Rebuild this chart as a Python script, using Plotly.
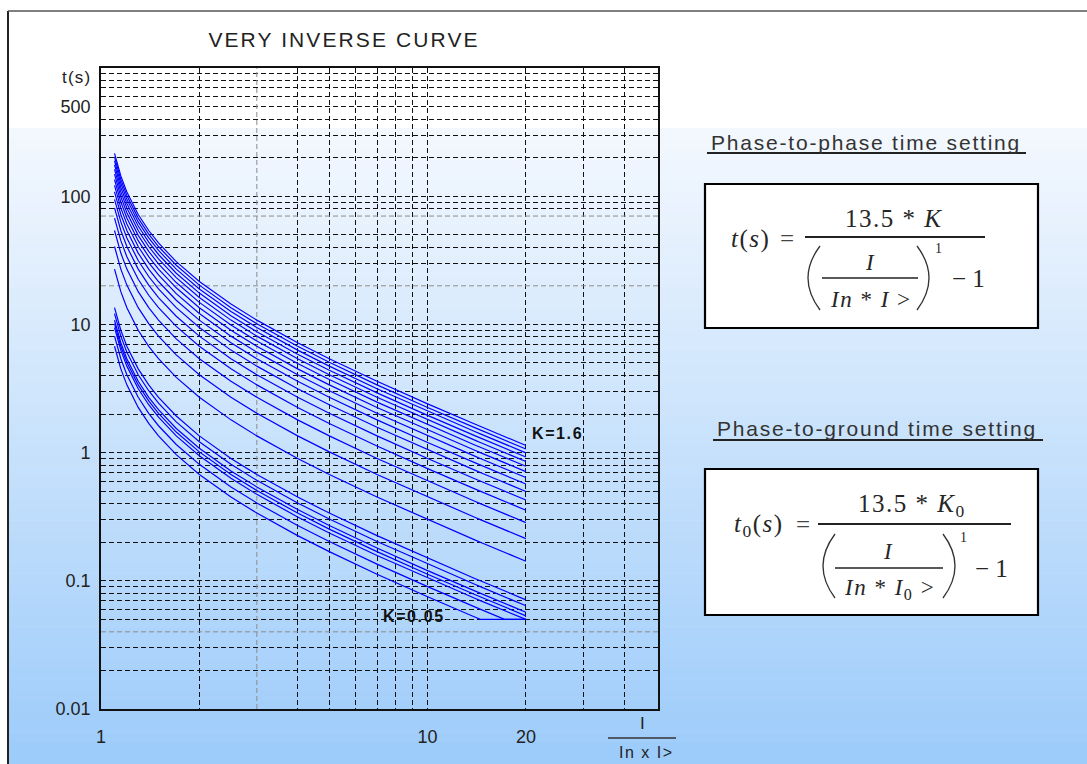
import math
import plotly.graph_objects as go

# ---------------- data ----------------
I_POINTS = [1.1, 1.15, 1.2, 1.3, 1.4, 1.5, 1.7, 2, 2.5, 3, 4, 5, 7, 10, 14, 14.5, 17.2, 20]

K_VALUES = [1.6, 1.5, 1.4, 1.3, 1.2, 1.1, 1.0, 0.9, 0.8, 0.7, 0.6, 0.5, 0.4, 0.3, 0.2,
            0.1, 0.09, 0.08, 0.075, 0.07, 0.06, 0.05]

T_VALUES = [
    [216, 144, 108, 72, 54, 43.2, 30.86, 21.6, 14.4, 10.8, 7.2, 5.4, 3.6, 2.4, 1.662, 1.6, 1.333, 1.137],
    [202.5, 135, 101.3, 67.5, 50.63, 40.5, 28.93, 20.25, 13.5, 10.13, 6.75, 5.063, 3.375, 2.25, 1.558, 1.5, 1.25, 1.066],
    [189, 126, 94.5, 63, 47.25, 37.8, 27, 18.9, 12.6, 9.45, 6.3, 4.725, 3.15, 2.1, 1.454, 1.4, 1.167, 0.9947],
    [175.5, 117, 87.75, 58.5, 43.88, 35.1, 25.07, 17.55, 11.7, 8.775, 5.85, 4.388, 2.925, 1.95, 1.35, 1.3, 1.083, 0.9237],
    [162, 108, 81, 54, 40.5, 32.4, 23.14, 16.2, 10.8, 8.1, 5.4, 4.05, 2.7, 1.8, 1.246, 1.2, 1.0, 0.8526],
    [148.5, 99, 74.25, 49.5, 37.13, 29.7, 21.21, 14.85, 9.9, 7.425, 4.95, 3.713, 2.475, 1.65, 1.142, 1.1, 0.9167, 0.7816],
    [135, 90, 67.5, 45, 33.75, 27, 19.29, 13.5, 9, 6.75, 4.5, 3.375, 2.25, 1.5, 1.038, 1.0, 0.8333, 0.7105],
    [121.5, 81, 60.75, 40.5, 30.38, 24.3, 17.36, 12.15, 8.1, 6.075, 4.05, 3.038, 2.025, 1.35, 0.9346, 0.9, 0.75, 0.6395],
    [108, 72, 54, 36, 27, 21.6, 15.43, 10.8, 7.2, 5.4, 3.6, 2.7, 1.8, 1.2, 0.8308, 0.8, 0.6667, 0.5684],
    [94.5, 63, 47.25, 31.5, 23.63, 18.9, 13.5, 9.45, 6.3, 4.725, 3.15, 2.363, 1.575, 1.05, 0.7269, 0.7, 0.5833, 0.4974],
    [81, 54, 40.5, 27, 20.25, 16.2, 11.57, 8.1, 5.4, 4.05, 2.7, 2.025, 1.35, 0.9, 0.6231, 0.6, 0.5, 0.4263],
    [67.5, 45, 33.75, 22.5, 16.88, 13.5, 9.643, 6.75, 4.5, 3.375, 2.25, 1.688, 1.125, 0.75, 0.5192, 0.5, 0.4167, 0.3553],
    [54, 36, 27, 18, 13.5, 10.8, 7.714, 5.4, 3.6, 2.7, 1.8, 1.35, 0.9, 0.6, 0.4154, 0.4, 0.3333, 0.2842],
    [40.5, 27, 20.25, 13.5, 10.13, 8.1, 5.786, 4.05, 2.7, 2.025, 1.35, 1.013, 0.675, 0.45, 0.3115, 0.3, 0.25, 0.2132],
    [27, 18, 13.5, 9, 6.75, 5.4, 3.857, 2.7, 1.8, 1.35, 0.9, 0.675, 0.45, 0.3, 0.2077, 0.2, 0.1667, 0.1421],
    [13.5, 9, 6.75, 4.5, 3.375, 2.7, 1.929, 1.35, 0.9, 0.675, 0.45, 0.3375, 0.225, 0.15, 0.1038, 0.1, 0.08333, 0.07105],
    [12.15, 8.1, 6.075, 4.05, 3.038, 2.43, 1.736, 1.215, 0.81, 0.6075, 0.405, 0.3038, 0.2025, 0.135, 0.09346, 0.09, 0.075, 0.06395],
    [10.8, 7.2, 5.4, 3.6, 2.7, 2.16, 1.543, 1.08, 0.72, 0.54, 0.36, 0.27, 0.18, 0.12, 0.08308, 0.08, 0.06667, 0.05684],
    [10.13, 6.75, 5.063, 3.375, 2.531, 2.025, 1.446, 1.013, 0.675, 0.5063, 0.3375, 0.2531, 0.1688, 0.1125, 0.07788, 0.075, 0.0625, 0.05329],
    [9.45, 6.3, 4.725, 3.15, 2.363, 1.89, 1.35, 0.945, 0.63, 0.4725, 0.315, 0.2363, 0.1575, 0.105, 0.07269, 0.07, 0.05833, 0.05],
    [8.1, 5.4, 4.05, 2.7, 2.025, 1.62, 1.157, 0.81, 0.54, 0.405, 0.27, 0.2025, 0.135, 0.09, 0.06231, 0.06, 0.05, 0.05],
    [6.75, 4.5, 3.375, 2.25, 1.688, 1.35, 0.9643, 0.675, 0.45, 0.3375, 0.225, 0.1688, 0.1125, 0.075, 0.05192, 0.05, 0.05, 0.05],
]

X_TICKS = [1, 10, 20]
X_TICK_TEXT = ["1", "10", "20"]
X_MINOR_GRID = [2, 4, 5, 6, 7, 8, 9, 30, 40]

Y_TICKS = [0.01, 0.1, 1, 10, 100, 500]
Y_TICK_TEXT = ["0.01", "0.1", "1", "10", "100", "500"]
Y_MINOR_GRID = [0.02, 0.03, 0.05, 0.06, 0.07, 0.08, 0.09,
                0.2, 0.3, 0.4, 0.5, 0.6, 0.7, 0.8, 0.9,
                2, 3, 4, 5, 6, 7, 8, 9,
                30, 40, 50, 80, 90,
                200, 300, 400, 600, 700, 800, 900]

GRAY_GRID_X = [3]
GRAY_GRID_Y = [0.04, 20, 70]

LABEL_TOP = ("K=1.6", 20.6, 1.42)
LABEL_BOTTOM = ("K=0.05", 7.2, 0.0523)

# ---------------- layout geometry ----------------
W, H = 1087, 764
ML, MR, MT, MB = 101, 429, 68, 55
PW, PH = W - ML - MR, H - MT - MB
BOTTOM = H - MB


def px(x):
    return (x - ML) / PW


def py(y):
    return (BOTTOM - y) / PH


def sp(text, ls):
    return '<span style="letter-spacing:%spx">%s</span>' % (ls, text)


fig = go.Figure()

# lighter grid lines
for gx in GRAY_GRID_X:
    fig.add_trace(go.Scatter(x=[gx, gx], y=[0.01, 1000], mode="lines",
                             line=dict(color="#8c8c8c", width=1, dash="5px,3px"),
                             hoverinfo="skip", showlegend=False))
for gy in GRAY_GRID_Y:
    fig.add_trace(go.Scatter(x=[1, 51], y=[gy, gy], mode="lines",
                             line=dict(color="#8c8c8c", width=1, dash="5px,3px"),
                             hoverinfo="skip", showlegend=False))

# curves
for k, ts in zip(K_VALUES, T_VALUES):
    fig.add_trace(go.Scatter(x=I_POINTS, y=ts, mode="lines", name="K=%g" % k,
                             line=dict(color="#0000ff", width=1.2),
                             hoverinfo="skip", showlegend=False))

shapes = []
# background gradient
top_c = (244, 248, 254)
bot_c = (156, 203, 250)
y_start, y_end = 128, H
n = 60
for i in range(n):
    ya = y_start + (y_end - y_start) * i / n
    yb = y_start + (y_end - y_start) * (i + 1) / n + 0.6
    f = (i + 0.5) / n
    c = tuple(round(top_c[j] + (bot_c[j] - top_c[j]) * f) for j in range(3))
    shapes.append(dict(type="rect", xref="paper", yref="paper", layer="below",
                       x0=px(8), x1=px(W + 2), y0=py(yb), y1=py(ya),
                       fillcolor="rgb(%d,%d,%d)" % c, line=dict(width=0)))
# outer frame
shapes.append(dict(type="line", xref="paper", yref="paper", x0=px(8), x1=px(8),
                   y0=py(11), y1=py(H + 2), line=dict(color="#222", width=2)))
shapes.append(dict(type="line", xref="paper", yref="paper", x0=px(8), x1=px(W + 2),
                   y0=py(11), y1=py(11), line=dict(color="#555", width=1.5)))

LINE_C = "#222"


def hline(x0, x1, y, w=1.6, color=LINE_C):
    shapes.append(dict(type="line", xref="paper", yref="paper", x0=px(x0), x1=px(x1),
                       y0=py(y), y1=py(y), line=dict(color=color, width=w)))


def box(x0, x1, y0, y1):
    shapes.append(dict(type="rect", xref="paper", yref="paper", x0=px(x0), x1=px(x1),
                       y0=py(y1), y1=py(y0), fillcolor="white",
                       line=dict(color="black", width=2.2)))


def paren(xa, xb, y0, y1):
    ym = (y0 + y1) / 2
    path = "M %f,%f Q %f,%f %f,%f" % (px(xa), py(y0), px(xb) * 2 - px(xa), py(ym), px(xa), py(y1))
    shapes.append(dict(type="path", xref="paper", yref="paper", path=path,
                       line=dict(color="#333", width=1.3)))


# x-axis title fraction bar
hline(608, 676, 738, w=1.4, color="#333")

# formula boxes
box(705, 1038, 184, 328)
box(705, 1038, 469, 615)
# headings underline
hline(707, 1026, 153, w=2, color="#222")
hline(713, 1043, 440, w=2, color="#222")

# formula 1 lines
hline(805, 985, 237, w=2.2)
hline(822, 918, 278, w=1.4)
paren(820, 808, 246, 310)
paren(917, 929, 246, 310)
# formula 2 lines
hline(818, 1011, 524, w=2.2)
hline(835, 943, 568, w=1.4)
paren(835, 823, 534, 598)
paren(943, 955, 534, 598)

annotations = []


def ann(x, y, text, size, family="Liberation Sans", color="#222", xanchor="center", yanchor="middle"):
    annotations.append(dict(xref="paper", yref="paper", x=px(x), y=py(y), text=text,
                            showarrow=False, xanchor=xanchor, yanchor=yanchor,
                            font=dict(size=size, family=family, color=color)))


SERIF = "Liberation Serif"
FC = "#262626"
# headings
ann(866, 143, sp("Phase-to-phase time setting", 1.8), 21, color="#333")
ann(877, 428, sp("Phase-to-ground time setting", 1.8), 21, color="#333")

# formula 1
ann(750, 239, sp("<i>t</i>(<i>s</i>)", 1.5), 25, SERIF, FC)
ann(787, 238, "=", 25, SERIF, "#444")
ann(893, 218, sp("13.5 * <i>K</i>", 1.5), 25, SERIF, FC)
ann(870, 262, "<i>I</i>", 23, SERIF, FC)
ann(871, 299, sp("<i>In</i> * <i>I</i> &gt;", 1.5), 23, SERIF, FC)
ann(938, 249, "1", 14, SERIF, FC)
ann(968, 278, "\u2212 1", 25, SERIF, FC)

# formula 2
ann(759, 525, sp("<i>t</i><sub>0</sub>(<i>s</i>)", 1.5), 25, SERIF, FC)
ann(803, 524, "=", 25, SERIF, "#444")
ann(912, 505, sp("13.5 * <i>K</i><sub>0</sub>", 1.5), 25, SERIF, FC)
ann(888, 551, "<i>I</i>", 23, SERIF, FC)
ann(889, 589, sp("<i>In</i> * <i>I</i><sub>0</sub> &gt;", 1.5), 23, SERIF, FC)
ann(963, 537, "1", 14, SERIF, FC)
ann(991, 568, "\u2212 1", 25, SERIF, FC)

# axis labels
ann(93, 77, sp("t(s)", 1.2), 17, color="#222", xanchor="right")
ann(642, 723, "I", 17, color="#222")
ann(646, 752, sp("In x I&gt;", 1.5), 16, color="#222")

# curve labels (data coordinates on log axes)
for txt, lx, ly in (LABEL_TOP, LABEL_BOTTOM):
    annotations.append(dict(xref="x", yref="y", x=math.log10(lx), y=math.log10(ly),
                            text="<b>%s</b>" % sp(txt, 1.6), showarrow=False,
                            xanchor="left", yanchor="middle",
                            font=dict(size=16, family="Liberation Sans", color="#111")))

axis_common = dict(type="log", showgrid=True, gridcolor="#111", gridwidth=1,
                   griddash="5px,3px", showline=True, mirror=True, linecolor="#111",
                   linewidth=1.6, ticks="", zeroline=False, automargin=False,
                   tickfont=dict(size=18, family="Liberation Sans", color="#222"))

fig.update_layout(
    width=W, height=H,
    margin=dict(l=ML, r=MR, t=MT, b=MB, autoexpand=False),
    paper_bgcolor="white",
    plot_bgcolor="rgba(0,0,0,0)",
    title=dict(text=sp("VERY INVERSE CURVE", 2.1), x=344 / W, y=1 - 40 / H,
               xanchor="center", yanchor="middle", xref="container", yref="container",
               font=dict(size=21, family="Liberation Sans", color="#222")),
    xaxis=dict(axis_common, range=[0, 1.7055], tickvals=X_TICKS, ticktext=X_TICK_TEXT,
               tickangle=0, ticklabelstandoff=11,
               minor=dict(tickvals=X_MINOR_GRID, showgrid=True, gridcolor="#111",
                          gridwidth=1, griddash="5px,3px", ticks="")),
    yaxis=dict(axis_common, range=[-2, 3], tickvals=Y_TICKS, ticktext=Y_TICK_TEXT,
               ticklabelstandoff=5,
               minor=dict(tickvals=Y_MINOR_GRID, showgrid=True, gridcolor="#111",
                          gridwidth=1, griddash="5px,3px", ticks="")),
    shapes=shapes,
    annotations=annotations,
    showlegend=False,
)

fig.write_html("out.html")
